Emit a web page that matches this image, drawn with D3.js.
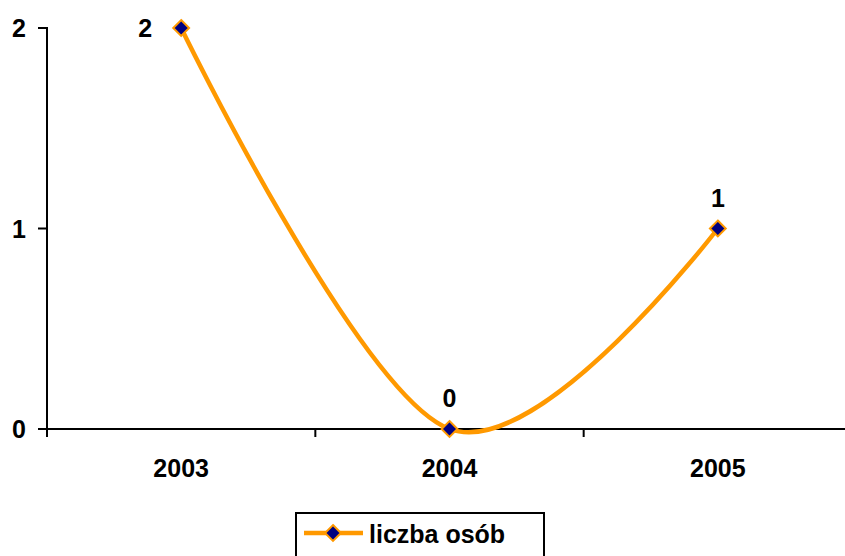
<!DOCTYPE html>
<html>
<head>
<meta charset="utf-8">
<script src="https://cdn.jsdelivr.net/npm/d3@7"></script>
<style>
  body { margin: 0; background: #fff; }
  svg { display: block; font-family: "Liberation Sans", Arial, sans-serif; font-weight: bold; }
</style>
</head>
<body>
<svg id="chart" width="845" height="556"></svg>
<script>
const years = ['2003', '2004', '2005']
const counts = [2, 0, 1]
const yTicks = [0, 1, 2]
const seriesName = 'liczba osób'

const svg = d3.select('#chart')
const x = d3.scaleBand().domain(years).range([47, 852])
const y = d3.scaleLinear().domain([0, 2]).range([429, 28])
const cx = d => x(d) + x.bandwidth() / 2
const fs = 25

const points = years.map((yr, i) => ({ yr, v: counts[i] }))

// axes
const xAxis = svg.append('g').attr('transform', 'translate(0,429)')
xAxis.append('line').attr('x1', 47).attr('x2', 852).attr('stroke', '#000').attr('stroke-width', 2)
xAxis.selectAll('.tk').data(d3.range(years.length + 1)).enter()
  .append('line')
  .attr('x1', i => 47 + i * x.step()).attr('x2', i => 47 + i * x.step())
  .attr('y1', 0).attr('y2', 8)
  .attr('stroke', '#000').attr('stroke-width', 2)
xAxis.selectAll('.lbl').data(years).enter()
  .append('text')
  .attr('x', d => cx(d)).attr('y', 48)
  .attr('text-anchor', 'middle')
  .attr('font-size', fs)
  .text(d => d)

const yAxis = svg.append('g')
yAxis.append('line').attr('x1', 47).attr('x2', 47).attr('y1', y(2) - 1).attr('y2', y(0) + 1)
  .attr('stroke', '#000').attr('stroke-width', 2)
yAxis.selectAll('.tk').data(yTicks).enter()
  .append('line')
  .attr('x1', 38).attr('x2', 47)
  .attr('y1', d => y(d)).attr('y2', d => y(d))
  .attr('stroke', '#000').attr('stroke-width', 2)
yAxis.selectAll('.lbl').data(yTicks).enter()
  .append('text')
  .attr('x', 26).attr('y', d => y(d) + 9)
  .attr('text-anchor', 'end')
  .attr('font-size', fs)
  .text(d => d)

// smoothed line, like the Excel one
const line = d3.line()
  .x(d => cx(d.yr))
  .y(d => y(d.v))
  .curve(d3.curveCardinal.tension(0))

svg.append('path')
  .datum(points)
  .attr('d', line)
  .attr('fill', 'none')
  .attr('stroke', '#FF9900')
  .attr('stroke-width', 4.5)

const diamond = d3.symbol().type(d3.symbolDiamond2).size(160)

svg.selectAll('.pt').data(points).enter()
  .append('path')
  .attr('d', diamond)
  .attr('transform', d => `translate(${cx(d.yr)},${y(d.v)})`)
  .attr('fill', '#000080')
  .attr('stroke', '#FF9900')
  .attr('stroke-width', 2)

// data labels, above the point unless it sits at the top of the plot
svg.selectAll('.dl').data(points).enter()
  .append('text')
  .attr('x', d => y(d.v) < 60 ? cx(d.yr) - 36 : cx(d.yr))
  .attr('y', d => y(d.v) < 60 ? y(d.v) + 9 : y(d.v) - 22)
  .attr('text-anchor', 'middle')
  .attr('font-size', fs)
  .text(d => d.v)

// legend
const lg = svg.append('g').attr('transform', 'translate(296,513)')
lg.append('rect').attr('width', 248).attr('height', 50)
  .attr('fill', '#fff').attr('stroke', '#000').attr('stroke-width', 2)
lg.append('line').attr('x1', 8).attr('x2', 67).attr('y1', 20).attr('y2', 20)
  .attr('stroke', '#FF9900').attr('stroke-width', 4.5)
lg.append('path').attr('d', diamond).attr('transform', 'translate(37,20)')
  .attr('fill', '#000080').attr('stroke', '#FF9900').attr('stroke-width', 2)
lg.append('text').attr('x', 73).attr('y', 30).attr('font-size', fs).text(seriesName)
</script>
</body>
</html>
